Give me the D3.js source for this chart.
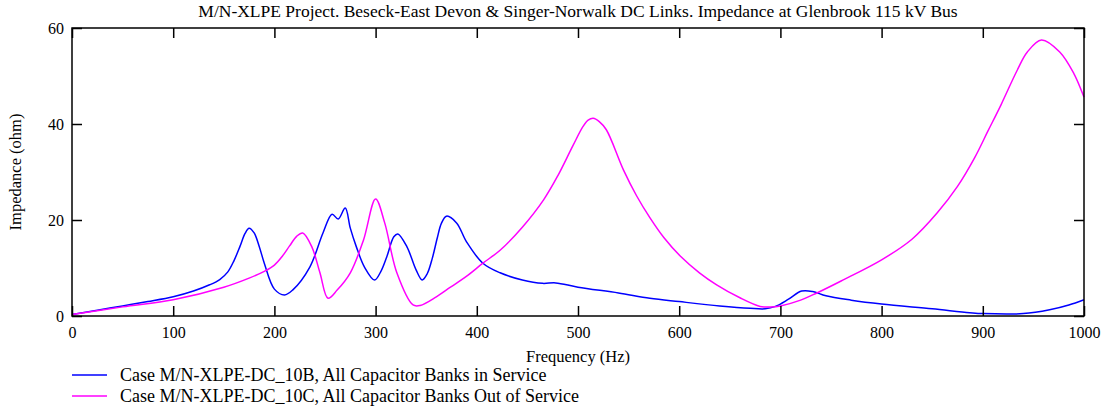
<!DOCTYPE html>
<html>
<head>
<meta charset="utf-8">
<script src="https://cdn.jsdelivr.net/npm/d3@7"></script>
<style>
  body { margin: 0; background: #fff; }
  text { font-family: "Liberation Serif", "Times New Roman", serif; fill: #000; }
</style>
</head>
<body>
<div id="graph"></div>
<script>
// data
var titleText = "M/N-XLPE Project. Beseck-East Devon & Singer-Norwalk DC Links. Impedance at Glenbrook 115 kV Bus";
var xTicks = [0, 100, 200, 300, 400, 500, 600, 700, 800, 900, 1000];
var yTicks = [0, 20, 40, 60];
var seriesNames = ["Case M/N-XLPE-DC_10B, All Capacitor Banks in Service",
                   "Case M/N-XLPE-DC_10C, All Capacitor Banks Out of Service"];

var freqB = [0, 25, 50, 75, 100, 120, 136, 146, 154, 160, 166, 171, 175, 180, 185, 190, 200, 210, 218, 235,
             248, 257, 263, 270, 275, 281, 289, 299, 305, 311, 318, 322, 331, 340, 346, 351, 356, 361, 365, 370,
             380, 390, 406, 423, 445, 465, 478, 500, 540, 571, 600, 640, 670, 685, 695, 708, 721, 732, 745, 770,
             800, 850, 887, 900, 940, 966, 985, 1000];
var zB = [0.3, 1.2, 2.1, 3.0, 4.0, 5.2, 6.5, 7.6, 9.2, 11.5, 14.5, 17.2, 18.3, 17.3, 14.5, 11, 5.6, 4.4, 5.4, 10.2,
          17.3, 21.2, 20.2, 22.5, 18.3, 14.4, 10.2, 7.5, 9.2, 12.3, 16.5, 17.1, 14.4, 9.6, 7.5, 8.8, 12, 16.3, 19.3, 20.8,
          19.4, 15.4, 11, 9, 7.5, 6.8, 6.9, 6.0, 4.8, 3.7, 3.0, 2.1, 1.6, 1.5, 2.0, 3.5, 5.2, 5.1, 4.2, 3.3,
          2.5, 1.5, 0.7, 0.5, 0.5, 1.3, 2.3, 3.4];

var freqM = [0, 50, 100, 150, 175, 190, 200, 208, 215, 222, 228, 237, 245, 253, 262, 275, 288, 300, 309, 321,
             337, 344, 360, 374, 390, 406, 423, 445, 466, 480, 495, 505, 510, 515, 521, 528, 545, 558, 571, 585,
             601, 620, 637, 660, 680, 690, 700, 720, 736, 760, 800, 830, 855, 875, 892, 905, 918, 934, 944, 958,
             976, 990, 1000];
var zM = [0.3, 1.9, 3.4, 6.0, 7.9, 9.3, 10.6, 12.5, 14.6, 16.6, 17.3, 14.4, 9, 3.7, 5.4, 9, 15.8, 24.4, 19.4, 9,
          2.3, 2.2, 4, 6, 8.3, 11, 13.7, 18.5, 24.2, 29.2, 35.5, 39.5, 40.8, 41.2, 40.5, 38.8, 30.4, 25, 20.5, 16.3,
          12.5, 9, 6.5, 3.8, 2.0, 1.9, 2.1, 3.3, 4.8, 7.3, 11.7, 16, 21.5, 27, 33, 38.5, 44, 51.2, 55, 57.5,
          55, 50.5, 45.6];

var svgWidth = 1109;
var svgHeight = 414;
var margin = { top: 28, right: 25, bottom: 98, left: 72 };
var chartWidth = 1084 - margin.left;
var chartHeight = 316 - margin.top;

var svg = d3.select("#graph")
  .append("svg")
  .attr("width", svgWidth)
  .attr("height", svgHeight);

var chartGroup = svg.append("g")
  .attr("transform", `translate(${margin.left}, ${margin.top})`);

var xScale = d3.scaleLinear().domain([0, 1000]).range([0, chartWidth]);
var yScale = d3.scaleLinear().domain([0, 60]).range([chartHeight, 0]);

// title
svg.append("text")
  .attr("x", margin.left + chartWidth / 2)
  .attr("y", 17)
  .attr("text-anchor", "middle")
  .style("font-size", "17.5px")
  .text(titleText);

// curves first, frame on top
var drawLine = d3.line()
  .x(d => xScale(d[0]))
  .y(d => yScale(d[1]))
  .curve(d3.curveCatmullRom.alpha(0.5));

var dataB = d3.zip(freqB, zB);
var dataM = d3.zip(freqM, zM);
var colors = ["#0000ff", "#ff00ff"];

chartGroup.append("path")
  .attr("d", drawLine(dataB))
  .attr("fill", "none")
  .attr("stroke", colors[0])
  .attr("stroke-width", 1.5);

chartGroup.append("path")
  .attr("d", drawLine(dataM))
  .attr("fill", "none")
  .attr("stroke", colors[1])
  .attr("stroke-width", 1.5);

// axes: ticks point inwards on all four sides
var tickLen = 10;
var bottomAxis = d3.axisBottom(xScale).tickValues(xTicks).tickSize(-tickLen).tickPadding(11).tickFormat(d3.format("d"));
var topAxis = d3.axisTop(xScale).tickValues(xTicks).tickSize(-tickLen).tickFormat("");
var leftAxis = d3.axisLeft(yScale).tickValues(yTicks).tickSize(-tickLen).tickPadding(8);
var rightAxis = d3.axisRight(yScale).tickValues(yTicks).tickSize(-tickLen).tickFormat("");

function styleAxis(g) {
  g.attr("font-family", null);
  g.selectAll(".domain").remove();
  g.selectAll(".tick line").attr("stroke", "#000").attr("stroke-width", 1.5);
  g.selectAll("text").style("font-size", "16px").attr("fill", "#000")
    .style("font-family", "'Liberation Serif', serif");
}

chartGroup.append("g").attr("transform", `translate(0, ${chartHeight})`).call(bottomAxis).call(styleAxis);
chartGroup.append("g").call(topAxis).call(styleAxis);
chartGroup.append("g").call(leftAxis).call(styleAxis);
chartGroup.append("g").attr("transform", `translate(${chartWidth}, 0)`).call(rightAxis).call(styleAxis);

chartGroup.append("rect")
  .attr("width", chartWidth)
  .attr("height", chartHeight)
  .attr("fill", "none")
  .attr("stroke", "#000")
  .attr("stroke-width", 1.5);

// axis titles
svg.append("text")
  .attr("x", margin.left + chartWidth / 2)
  .attr("y", 362)
  .attr("text-anchor", "middle")
  .style("font-size", "16.5px")
  .text("Frequency (Hz)");

svg.append("text")
  .attr("transform", `translate(21, ${margin.top + chartHeight / 2}) rotate(-90)`)
  .attr("text-anchor", "middle")
  .style("font-size", "16.5px")
  .text("Impedance (ohm)");

// legend
var legend = svg.append("g");
seriesNames.forEach(function (name, i) {
  var y = 375 + i * 21;
  legend.append("line")
    .attr("x1", 72).attr("x2", 107)
    .attr("y1", y).attr("y2", y)
    .attr("stroke", colors[i])
    .attr("stroke-width", 1.5);
  legend.append("text")
    .attr("x", 120)
    .attr("y", y + 6)
    .style("font-size", "18px")
    .text(name);
});
</script>
</body>
</html>
